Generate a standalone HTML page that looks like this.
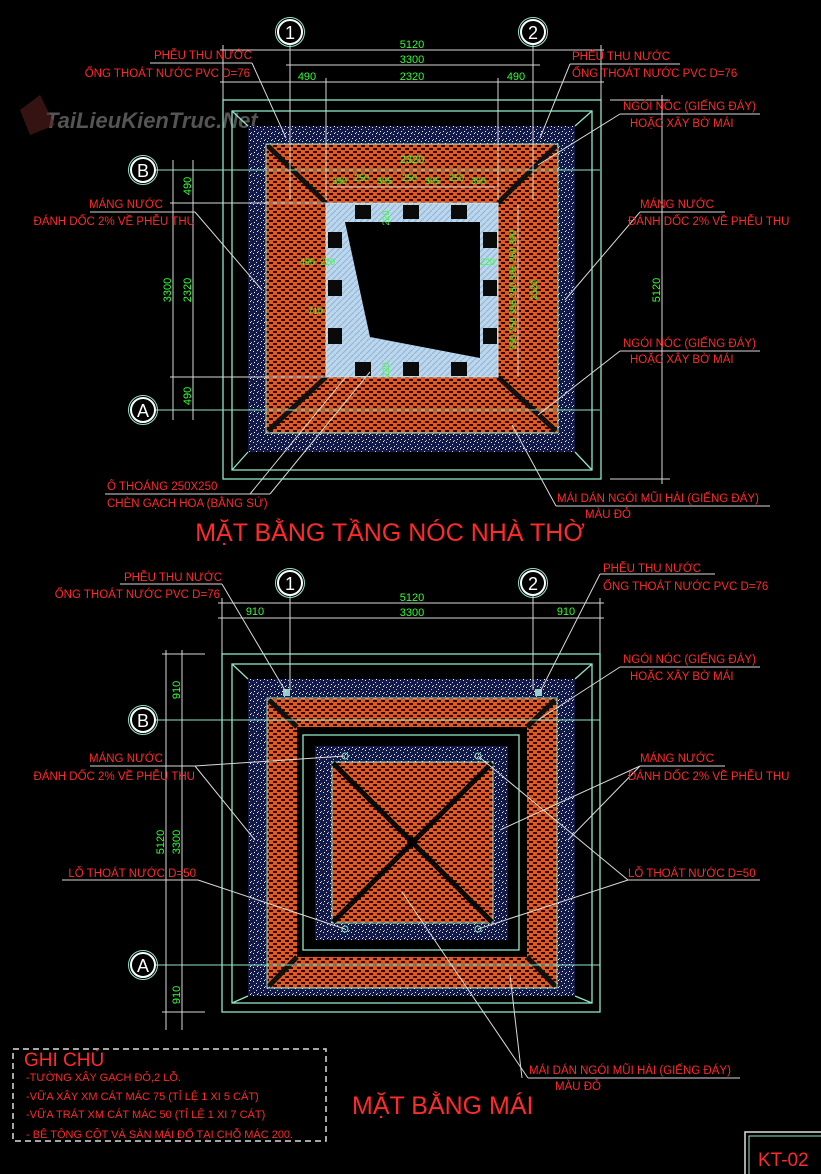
<!DOCTYPE html>
<html><head><meta charset="utf-8"><style>
html,body{margin:0;padding:0;background:#000;}
svg{display:block;}
text{font-family:"Liberation Sans","DejaVu Sans",sans-serif;}
.r{fill:#ff2a2a;font-size:11.5px;}
.g{fill:#33ff33;font-size:11px;}
.gs{fill:#33ff33;font-size:9px;}
.w{stroke:#d8d8d8;stroke-width:1;fill:none;}
.c{stroke:#8fe6c8;stroke-width:1.3;fill:none;}
.ax{fill:#fff;font-size:18px;}
</style></head><body>
<svg width="821" height="1174" viewBox="0 0 821 1174" xmlns="http://www.w3.org/2000/svg">
<defs>
<pattern id="brick" width="8" height="6" patternUnits="userSpaceOnUse">
<rect width="8" height="6" fill="#e05a1e"/>
<rect x="1" y="1" width="4" height="2" fill="#2a0800"/>
<rect x="5" y="4" width="3" height="2" fill="#2a0800"/>
<rect x="0" y="4" width="1" height="2" fill="#2a0800"/>
</pattern>
<pattern id="noise" width="7" height="7" patternUnits="userSpaceOnUse">
<rect width="7" height="7" fill="#141a48"/>
<rect x="1" y="1" width="1" height="1" fill="#dfe8ff"/>
<rect x="4" y="3" width="1" height="1" fill="#c8d4ff"/>
<rect x="2" y="5" width="1" height="1" fill="#ffffff"/>
<rect x="6" y="6" width="1" height="1" fill="#9fb0ff"/>
<rect x="5" y="0" width="1" height="1" fill="#ffffff"/>
</pattern>
<pattern id="hatch" width="6" height="6" patternUnits="userSpaceOnUse">
<rect width="6" height="6" fill="#bcd6ec"/>
<path d="M0 6L6 0" stroke="#8fb4d8" stroke-width="1"/>
</pattern>
</defs>

<text x="45" y="128" style="font-size:22px;font-style:italic;font-weight:bold;fill:#6a6a6a;opacity:.8">TaiLieuKienTruc.Net</text>
<polygon points="20,110 40,95 55,125 30,135" fill="#5a2020" opacity=".6"/>

<!-- TOP PLAN -->
<g>
<rect x="223" y="100" width="378" height="379" class="c"/>
<rect x="232" y="111" width="360" height="359" class="c"/>
<rect x="248" y="126" width="327" height="326" fill="url(#noise)"/>
<rect x="266" y="144" width="292" height="289" fill="url(#brick)" stroke="#8fe6c8"/>
<line x1="232" y1="111" x2="248" y2="126" class="c"/><line x1="592" y1="111" x2="575" y2="126" class="c"/>
<line x1="232" y1="470" x2="248" y2="452" class="c"/><line x1="592" y1="470" x2="575" y2="452" class="c"/>
<g stroke="#111" stroke-width="5">
<line x1="268" y1="146" x2="326" y2="203"/><line x1="556" y1="146" x2="498" y2="203"/>
<line x1="268" y1="431" x2="326" y2="377"/><line x1="556" y1="431" x2="498" y2="377"/>
</g>
<rect x="326" y="203" width="172" height="174" fill="url(#hatch)" stroke="#ddd"/>
<g fill="#0a0a0a">
<rect x="355" y="205" width="16" height="14"/><rect x="403" y="205" width="16" height="14"/><rect x="451" y="205" width="16" height="14"/>
<rect x="355" y="362" width="16" height="14"/><rect x="403" y="362" width="16" height="14"/><rect x="451" y="362" width="16" height="14"/>
<rect x="328" y="232" width="14" height="16"/><rect x="328" y="280" width="14" height="16"/><rect x="328" y="328" width="14" height="16"/>
<rect x="483" y="232" width="14" height="16"/><rect x="483" y="280" width="14" height="16"/><rect x="483" y="328" width="14" height="16"/>
</g>
<polygon points="345,222 480,222 480,358 370,337" fill="#000"/>
<g class="w">
<line x1="220" y1="50" x2="604" y2="50"/><line x1="286" y1="65" x2="540" y2="65"/><line x1="220" y1="82" x2="604" y2="82"/>
<line x1="290" y1="44" x2="290" y2="200"/><line x1="533" y1="44" x2="533" y2="200"/>
<line x1="223" y1="45" x2="223" y2="100"/><line x1="601" y1="45" x2="601" y2="100"/>
<line x1="326" y1="78" x2="326" y2="200"/><line x1="498" y1="78" x2="498" y2="200"/>
<line x1="155" y1="170" x2="600" y2="170" stroke="#8fe6c8"/><line x1="155" y1="410" x2="600" y2="410" stroke="#8fe6c8"/>
<line x1="170" y1="203" x2="330" y2="203"/><line x1="170" y1="377" x2="330" y2="377"/>
<line x1="173" y1="160" x2="173" y2="420"/><line x1="193" y1="160" x2="193" y2="420"/>
<line x1="610" y1="100" x2="670" y2="100"/><line x1="610" y1="479" x2="670" y2="479"/>
<line x1="662" y1="95" x2="662" y2="484"/>
<line x1="330" y1="187" x2="495" y2="187"/><line x1="518" y1="205" x2="518" y2="377"/>
</g>
<circle cx="290" cy="32" r="12" fill="#000" stroke="#fff" stroke-width="2"/><circle cx="290" cy="32" r="14.5" fill="none" stroke="#8fe6c8"/>
<text x="290" y="39" text-anchor="middle" class="ax">1</text>
<circle cx="533" cy="32" r="12" fill="#000" stroke="#fff" stroke-width="2"/><circle cx="533" cy="32" r="14.5" fill="none" stroke="#8fe6c8"/>
<text x="533" y="39" text-anchor="middle" class="ax">2</text>
<circle cx="143" cy="170" r="12" fill="#000" stroke="#fff" stroke-width="2"/><circle cx="143" cy="170" r="14.5" fill="none" stroke="#8fe6c8"/>
<text x="143" y="177" text-anchor="middle" class="ax">B</text>
<circle cx="143" cy="410" r="12" fill="#000" stroke="#fff" stroke-width="2"/><circle cx="143" cy="410" r="14.5" fill="none" stroke="#8fe6c8"/>
<text x="143" y="417" text-anchor="middle" class="ax">A</text>
<g class="g">
<text x="412" y="48" text-anchor="middle">5120</text><text x="412" y="63" text-anchor="middle">3300</text>
<text x="307" y="80" text-anchor="middle">490</text><text x="412" y="80" text-anchor="middle">2320</text><text x="516" y="80" text-anchor="middle">490</text>
<text x="412" y="163" text-anchor="middle">2320</text>
<text transform="translate(171,290) rotate(-90)" text-anchor="middle">3300</text>
<text transform="translate(191,290) rotate(-90)" text-anchor="middle">2320</text>
<text transform="translate(191,186) rotate(-90)" text-anchor="middle">490</text>
<text transform="translate(191,396) rotate(-90)" text-anchor="middle">490</text>
<text transform="translate(660,290) rotate(-90)" text-anchor="middle">5120</text>
</g>
<g class="gs">
<text x="332" y="184">390</text><text x="354" y="181">250</text><text x="377" y="184">395</text><text x="402" y="181">250</text><text x="425" y="184">395</text><text x="449" y="181">250</text><text x="471" y="184">390</text>
<text x="300" y="265">490</text><text x="320" y="265">220</text><text x="480" y="265">220</text><text x="308" y="314">710</text>
<text transform="translate(516,290) rotate(-90)" text-anchor="middle">390 250 395 250 395 250 390</text>
<text transform="translate(537,290) rotate(-90)" text-anchor="middle">2320</text>
<text transform="translate(389,218) rotate(-90)" text-anchor="middle">220</text>
<text transform="translate(389,370) rotate(-90)" text-anchor="middle">220</text>
</g>
<g class="w">
<line x1="150" y1="63" x2="252" y2="63"/><line x1="252" y1="63" x2="286" y2="138"/>
<line x1="570" y1="64" x2="680" y2="64"/><line x1="570" y1="64" x2="540" y2="138"/>
<line x1="620" y1="114" x2="760" y2="114"/><line x1="620" y1="114" x2="538" y2="165"/>
<line x1="640" y1="212" x2="725" y2="212"/><line x1="640" y1="212" x2="565" y2="300"/>
<line x1="620" y1="351" x2="760" y2="351"/><line x1="620" y1="351" x2="538" y2="415"/>
<line x1="90" y1="212" x2="195" y2="212"/><line x1="195" y1="212" x2="262" y2="290"/>
<line x1="105" y1="494" x2="270" y2="494"/><line x1="270" y1="494" x2="370" y2="372"/><line x1="250" y1="494" x2="350" y2="372"/>
<line x1="556" y1="506" x2="770" y2="506"/><line x1="556" y1="506" x2="512" y2="425"/>
</g>
<g class="r">
<text x="252" y="59" text-anchor="end">PHỄU THU NƯỚC</text>
<text x="250" y="77" text-anchor="end">ỐNG THOÁT NƯỚC PVC D=76</text>
<text x="572" y="60">PHỄU THU NƯỚC</text>
<text x="572" y="77">ỐNG THOÁT NƯỚC PVC D=76</text>
<text x="623" y="110">NGÓI NÓC (GIẾNG ĐÁY)</text>
<text x="630" y="127">HOẶC XÂY BỜ MÁI</text>
<text x="640" y="208">MÁNG NƯỚC</text>
<text x="628" y="225">ĐÁNH DỐC 2% VỀ PHỄU THU</text>
<text x="623" y="347">NGÓI NÓC (GIẾNG ĐÁY)</text>
<text x="630" y="363">HOẶC XÂY BỜ MÁI</text>
<text x="163" y="208" text-anchor="end">MÁNG NƯỚC</text>
<text x="195" y="225" text-anchor="end">ĐÁNH DỐC 2% VỀ PHỄU THU</text>
<text x="107" y="490">Ô THOÁNG 250X250</text>
<text x="107" y="507">CHÈN GẠCH HOA (BẰNG SỨ)</text>
<text x="557" y="502">MÁI DÁN NGÓI MŨI HÀI (GIẾNG ĐÁY)</text>
<text x="585" y="518">MÀU ĐỎ</text>
<text x="390" y="541" text-anchor="middle" style="font-size:25px">MẶT BẰNG TẦNG NÓC NHÀ THỜ</text>
</g>
</g>

<!-- BOTTOM PLAN -->
<g>
<rect x="222" y="654" width="378" height="358" class="c"/>
<rect x="232" y="664" width="360" height="339" class="c"/>
<rect x="248" y="679" width="327" height="317" fill="url(#noise)"/>
<rect x="267" y="698" width="290" height="290" fill="url(#brick)" stroke="#8fe6c8"/>
<line x1="232" y1="664" x2="248" y2="679" class="c"/><line x1="592" y1="664" x2="575" y2="679" class="c"/>
<line x1="232" y1="1003" x2="248" y2="996" class="c"/><line x1="592" y1="1003" x2="575" y2="996" class="c"/>
<g stroke="#111" stroke-width="5">
<line x1="269" y1="700" x2="297" y2="727"/><line x1="555" y1="700" x2="527" y2="727"/>
<line x1="269" y1="986" x2="297" y2="957"/><line x1="555" y1="986" x2="527" y2="957"/>
</g>
<rect x="297" y="727" width="230" height="230" fill="#000"/>
<rect x="303" y="735" width="216" height="215" class="c"/>
<rect x="315" y="746" width="193" height="194" fill="url(#noise)"/>
<rect x="332" y="762" width="161" height="161" fill="url(#brick)" stroke="#8fe6c8"/>
<g stroke="#0a0a0a" stroke-width="5"><line x1="333" y1="763" x2="492" y2="922"/><line x1="492" y1="763" x2="333" y2="922"/></g>
<circle cx="412" cy="842" r="5" fill="#000"/>
<g fill="none" stroke="#8fe6c8"><circle cx="345" cy="756" r="3"/><circle cx="478" cy="756" r="3"/><circle cx="345" cy="929" r="3"/><circle cx="478" cy="929" r="3"/></g>
<rect x="283" y="689" width="7" height="7" fill="#9cc" /><rect x="535" y="689" width="7" height="7" fill="#9cc"/>
<g class="w">
<line x1="218" y1="603" x2="604" y2="603"/><line x1="218" y1="618" x2="604" y2="618"/>
<line x1="222" y1="598" x2="222" y2="654"/><line x1="600" y1="598" x2="600" y2="654"/>
<line x1="290" y1="596" x2="290" y2="690"/><line x1="533" y1="596" x2="533" y2="690"/>
<line x1="155" y1="720" x2="600" y2="720" stroke="#8fe6c8"/><line x1="155" y1="965" x2="600" y2="965" stroke="#8fe6c8"/>
<line x1="162" y1="654" x2="205" y2="654"/><line x1="162" y1="1012" x2="205" y2="1012"/>
<line x1="166" y1="650" x2="166" y2="1030"/><line x1="182" y1="650" x2="182" y2="1030"/>
</g>
<circle cx="290" cy="583" r="12" fill="#000" stroke="#fff" stroke-width="2"/><circle cx="290" cy="583" r="14.5" fill="none" stroke="#8fe6c8"/>
<text x="290" y="590" text-anchor="middle" class="ax">1</text>
<circle cx="533" cy="583" r="12" fill="#000" stroke="#fff" stroke-width="2"/><circle cx="533" cy="583" r="14.5" fill="none" stroke="#8fe6c8"/>
<text x="533" y="590" text-anchor="middle" class="ax">2</text>
<circle cx="143" cy="720" r="12" fill="#000" stroke="#fff" stroke-width="2"/><circle cx="143" cy="720" r="14.5" fill="none" stroke="#8fe6c8"/>
<text x="143" y="727" text-anchor="middle" class="ax">B</text>
<circle cx="143" cy="965" r="12" fill="#000" stroke="#fff" stroke-width="2"/><circle cx="143" cy="965" r="14.5" fill="none" stroke="#8fe6c8"/>
<text x="143" y="972" text-anchor="middle" class="ax">A</text>
<g class="g">
<text x="412" y="601" text-anchor="middle">5120</text><text x="412" y="616" text-anchor="middle">3300</text>
<text x="255" y="615" text-anchor="middle">910</text><text x="566" y="615" text-anchor="middle">910</text>
<text transform="translate(180,690) rotate(-90)" text-anchor="middle">910</text>
<text transform="translate(180,842) rotate(-90)" text-anchor="middle">3300</text>
<text transform="translate(164,842) rotate(-90)" text-anchor="middle">5120</text>
<text transform="translate(180,995) rotate(-90)" text-anchor="middle">910</text>
</g>
<g class="w">
<line x1="120" y1="584" x2="222" y2="584"/><line x1="222" y1="584" x2="286" y2="692"/>
<line x1="600" y1="574" x2="715" y2="574"/><line x1="600" y1="574" x2="540" y2="692"/>
<line x1="620" y1="667" x2="760" y2="667"/><line x1="620" y1="667" x2="538" y2="720"/>
<line x1="640" y1="766" x2="725" y2="766"/><line x1="640" y1="766" x2="500" y2="830"/><line x1="640" y1="766" x2="568" y2="840"/>
<line x1="628" y1="880" x2="760" y2="880"/><line x1="628" y1="880" x2="478" y2="929"/><line x1="628" y1="880" x2="478" y2="756"/>
<line x1="90" y1="766" x2="195" y2="766"/><line x1="195" y1="766" x2="255" y2="840"/><line x1="195" y1="766" x2="345" y2="756"/>
<line x1="62" y1="880" x2="198" y2="880"/><line x1="198" y1="880" x2="345" y2="929"/>
<line x1="528" y1="1078" x2="740" y2="1078"/><line x1="528" y1="1078" x2="402" y2="892"/><line x1="522" y1="1078" x2="510" y2="975"/>
</g>
<g class="r">
<text x="222" y="581" text-anchor="end">PHỄU THU NƯỚC</text>
<text x="220" y="598" text-anchor="end">ỐNG THOÁT NƯỚC PVC D=76</text>
<text x="603" y="572">PHỄU THU NƯỚC</text>
<text x="603" y="590">ỐNG THOÁT NƯỚC PVC D=76</text>
<text x="623" y="663">NGÓI NÓC (GIẾNG ĐÁY)</text>
<text x="630" y="680">HOẶC XÂY BỜ MÁI</text>
<text x="640" y="762">MÁNG NƯỚC</text>
<text x="628" y="780">ĐÁNH DỐC 2% VỀ PHỄU THU</text>
<text x="628" y="877">LỖ THOÁT NƯỚC D=50</text>
<text x="163" y="762" text-anchor="end">MÁNG NƯỚC</text>
<text x="195" y="780" text-anchor="end">ĐÁNH DỐC 2% VỀ PHỄU THU</text>
<text x="196" y="877" text-anchor="end">LỖ THOÁT NƯỚC D=50</text>
<text x="529" y="1074">MÁI DÁN NGÓI MŨI HÀI (GIẾNG ĐÁY)</text>
<text x="555" y="1090">MÀU ĐỎ</text>
<text x="352" y="1114" style="font-size:25px">MẶT BẰNG MÁI</text>
</g>
</g>

<rect x="13" y="1049" width="313" height="92" fill="none" stroke="#ddd" stroke-width="1.5" stroke-dasharray="6,4"/>
<g class="r">
<text x="24" y="1066" style="font-size:19px">GHI CHÚ</text>
<text x="26" y="1081" style="font-size:11px">-TƯỜNG XÂY GẠCH ĐỎ,2 LỖ.</text>
<text x="26" y="1100" style="font-size:11px">-VỮA XÂY XM CÁT MÁC 75 (TỈ LỆ 1 XI 5 CÁT)</text>
<text x="26" y="1118" style="font-size:11px">-VỮA TRÁT XM CÁT MÁC 50 (TỈ LỆ 1 XI 7 CÁT)</text>
<text x="26" y="1138" style="font-size:11px">- BÊ TÔNG CỘT VÀ SÀN MÁI ĐỔ TẠI CHỖ MÁC 200.</text>
</g>
<rect x="745" y="1132" width="80" height="50" fill="none" stroke="#ddd" stroke-width="1.5"/>
<rect x="749" y="1136" width="76" height="46" fill="none" stroke="#8fe6c8"/>
<text x="758" y="1166" class="r" style="font-size:19px">KT-02</text>
</svg>
</body></html>
